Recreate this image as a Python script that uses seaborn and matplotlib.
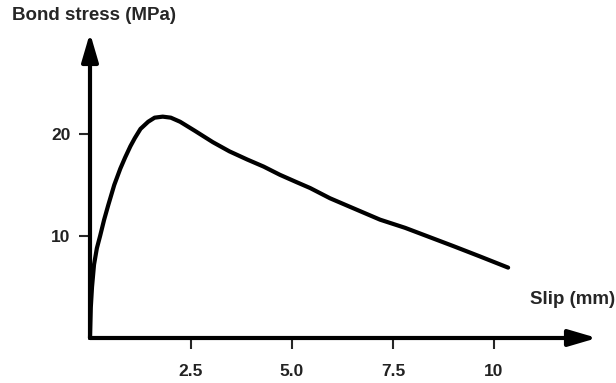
import matplotlib
matplotlib.use("Agg")
import matplotlib.pyplot as plt
import seaborn as sns
import pandas as pd

slip = [0, 0.02, 0.05, 0.1, 0.17, 0.25, 0.35, 0.45, 0.6, 0.75, 0.87, 1.0, 1.11, 1.25,
        1.44, 1.6, 1.8, 2.0, 2.23, 2.6, 3.04, 3.45, 3.89, 4.3, 4.7, 5.1, 5.45, 5.94,
        6.5, 7.18, 7.8, 8.4, 9.0, 9.65, 10.35]
stress = [0, 3.0, 5.0, 7.2, 8.8, 10.0, 11.6, 13.0, 15.0, 16.6, 17.7, 18.8, 19.6, 20.5,
          21.2, 21.6, 21.7, 21.6, 21.2, 20.3, 19.2, 18.3, 17.5, 16.8, 16.0, 15.3, 14.7,
          13.7, 12.75, 11.6, 10.8, 9.9, 9.0, 8.0, 6.9]
x_ticks = [2.5, 5.0, 7.5, 10]
x_tick_labels = ["2.5", "5.0", "7.5", "10"]
y_ticks = [10, 20]
y_tick_labels = ["10", "20"]

sns.set_style("white")
plt.rcParams['font.family'] = ['Liberation Sans', 'DejaVu Sans']

fig = plt.figure(figsize=(6.16, 3.83), dpi=100)
ax = fig.add_axes([90/616, 45/383, (597-90)/616, (338-33)/383])

df = pd.DataFrame({"slip": slip, "stress": stress})
sns.lineplot(data=df, x="slip", y="stress", sort=False, color="black",
             linewidth=3.0, ax=ax, clip_on=False,
             solid_joinstyle='round', solid_capstyle='round')

ax.set_xlim(0, 12.55)
ax.set_ylim(0, 29.9)
for s in ax.spines.values():
    s.set_visible(False)

arrow_kw = dict(arrowstyle='-|>,head_length=1.7,head_width=0.5', color='black',
                lw=3.0, mutation_scale=10, shrinkA=0, shrinkB=0)
ax.annotate('', xy=(1, 0), xytext=(0, 0), xycoords='axes fraction',
            arrowprops=arrow_kw, annotation_clip=False)
ax.annotate('', xy=(0, 1), xytext=(0, 0), xycoords='axes fraction',
            arrowprops=arrow_kw, annotation_clip=False)

ax.set_xticks(x_ticks)
ax.set_xticklabels(x_tick_labels)
ax.set_yticks(y_ticks)
ax.set_yticklabels(y_tick_labels)
ax.tick_params(axis='x', direction='out', length=8, width=1.5, pad=11,
               labelsize=12.5, bottom=True)
ax.tick_params(axis='y', direction='out', length=8, width=1.5, pad=6,
               labelsize=12.5, left=True)
for lab in ax.get_xticklabels() + ax.get_yticklabels():
    lab.set_fontweight('bold')
    lab.set_color('#222222')
ax.set_xlabel('')
ax.set_ylabel('')

fig.text(12/616, 1 - 15/383, 'Bond stress (MPa)', ha='left', va='center',
         fontsize=13.5, fontweight='bold')
fig.text(615/616, 1 - 300/383, 'Slip (mm)', ha='right', va='center',
         fontsize=13.5, fontweight='bold')

fig.savefig('out.png', dpi=100)
